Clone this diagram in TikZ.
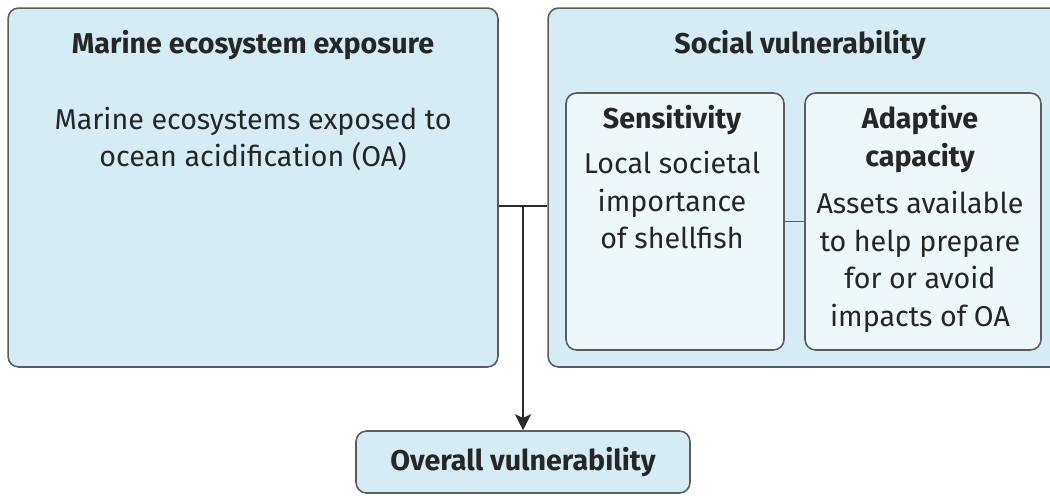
\documentclass[tikz,border=0pt]{standalone}
\usepackage{fontspec}
\setmainfont{Fira Sans}
\usetikzlibrary{arrows.meta}
\definecolor{paleblue}{HTML}{D5ECF4}
\definecolor{paleinner}{HTML}{EEF7FA}
\definecolor{boxline}{HTML}{5C5C5C}
\definecolor{linkline}{HTML}{2B2B2B}
\tikzset{
  outerbox/.style={draw=boxline, fill=paleblue, line width=0.9pt, rounded corners=6pt},
  innerbox/.style={draw=boxline, fill=paleinner, line width=0.9pt, rounded corners=6pt},
  title/.style={font=\fontsize{16.3}{21.3}\selectfont\bfseries, text=black!85, align=center},
  body/.style={font=\fontsize{16.3}{21.3}\selectfont, text=black!85, align=center},
  link/.style={draw=linkline, line width=1.5pt},
}

\begin{document}
\begin{tikzpicture}[x=0.02cm, y=-0.02cm]
\useasboundingbox (0,0) rectangle (1050,495);

% the two big panels
\node [outerbox, minimum width=9.8cm, minimum height=7.18cm] (expo) at (253,187.5) {};
\node [outerbox, minimum width=10.64cm, minimum height=7.18cm] (social) at (814,187.5) {};

% inside the social panel
\node [innerbox, minimum width=4.36cm, minimum height=5.14cm] (sens) at (675,221.5) {};
\node [innerbox, minimum width=4.72cm, minimum height=5.14cm] (adapt) at (923,221.5) {};
\draw [draw=boxline, line width=0.9pt] (sens) -- (adapt);

% result
\node [outerbox, minimum width=6.68cm, minimum height=1.24cm, title] (overall) at (523,462) {Overall vulnerability};

% texts
\node [title] (expotitle) at (253,45) {Marine ecosystem exposure};
\node [body] (expotext) at (253,139) {Marine ecosystems exposed to\\ocean acidification (OA)};
\node [title] (socialtitle) at (800,45) {Social vulnerability};
\node [title] (senstitle) at (672,120) {Sensitivity};
\node [body] (senstext) at (672,200) {Local societal\\importance\\of shellfish};
\node [title] (adapttitle) at (920,139) {Adaptive\\capacity};
\node [body] (adapttext) at (920,262) {Assets available\\to help prepare\\for or avoid\\impacts of OA};

% connectors
\coordinate (join) at (523,206);
\draw [link] (expo.east |- join) -- (social.west |- join);
\draw [link, -{Stealth[length=9pt, width=9pt, inset=2pt]}] (join) -- (overall.north);
\end{tikzpicture}
\end{document}
